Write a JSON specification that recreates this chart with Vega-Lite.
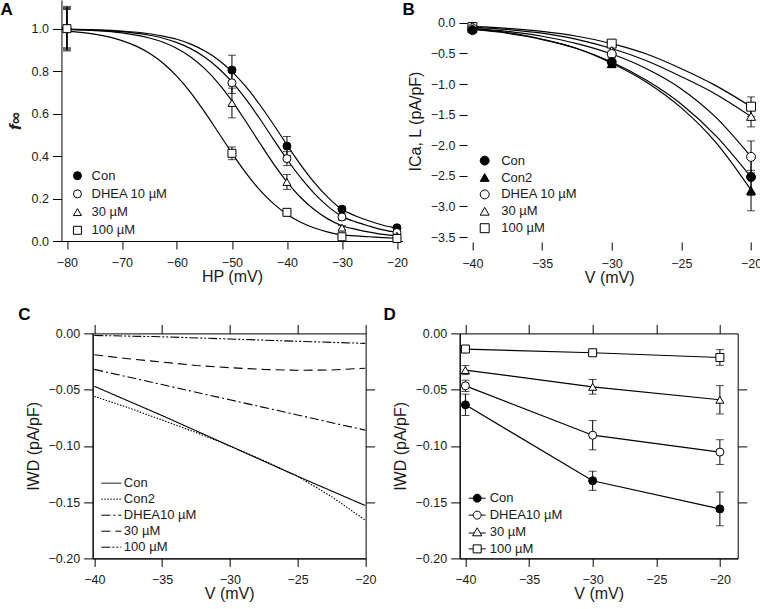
{
"$schema": "https://vega.github.io/schema/vega-lite/v6.json",
"background": "white",
"padding": 0,
"spacing": -25.3,
"config": {
 "font": "Liberation Sans",
 "view": {"stroke": null},
 "axis": {"grid": false, "domainColor": "black", "tickColor": "black", "labelColor": "#1a1a1a", "titleColor": "#1a1a1a", "labelFont": "Liberation Sans", "titleFont": "Liberation Sans", "labelFontSize": 12.5, "titleFontSize": 16, "titleFontWeight": "normal", "tickSize": 8, "labelPadding": 7, "labelFlush": false, "labelOverlap": false, "domainWidth": 1, "tickWidth": 1},
 "axisY": {"labelPadding": 4, "tickSize": 9, "titlePadding": 7},
 "axisX": {"titlePadding": 0},
 "legend": {"labelFont": "Liberation Sans", "labelFontSize": 13, "labelColor": "#1a1a1a", "padding": 0, "rowPadding": 4, "symbolStrokeColor": "black", "symbolStrokeWidth": 1, "symbolOpacity": 1, "orient": "none"},
 "title": {"font": "Liberation Sans", "fontSize": 17, "fontWeight": "bold", "anchor": "start", "frame": "bounds", "color": "black", "baseline": "bottom"}
},
"datasets": {
 "Acurve": [
  {"s":"Con","V":-80,"f":0.998},{"s":"Con","V":-75,"f":0.995},{"s":"Con","V":-70,"f":0.989},{"s":"Con","V":-65,"f":0.976},{"s":"Con","V":-62.5,"f":0.965},{"s":"Con","V":-60,"f":0.95},{"s":"Con","V":-57.5,"f":0.927},{"s":"Con","V":-55,"f":0.896},{"s":"Con","V":-52.5,"f":0.854},{"s":"Con","V":-50,"f":0.798},{"s":"Con","V":-47.5,"f":0.728},{"s":"Con","V":-45,"f":0.644},{"s":"Con","V":-42.5,"f":0.551},{"s":"Con","V":-40,"f":0.453},{"s":"Con","V":-37.5,"f":0.359},{"s":"Con","V":-35,"f":0.275},{"s":"Con","V":-32.5,"f":0.204},{"s":"Con","V":-30,"f":0.148},{"s":"Con","V":-27.5,"f":0.118},{"s":"Con","V":-25,"f":0.094},{"s":"Con","V":-22.5,"f":0.074},{"s":"Con","V":-20,"f":0.06},
  {"s":"D10","V":-80,"f":0.997},{"s":"D10","V":-75,"f":0.993},{"s":"D10","V":-70,"f":0.986},{"s":"D10","V":-65,"f":0.969},{"s":"D10","V":-62.5,"f":0.955},{"s":"D10","V":-60,"f":0.934},{"s":"D10","V":-57.5,"f":0.906},{"s":"D10","V":-55,"f":0.867},{"s":"D10","V":-52.5,"f":0.815},{"s":"D10","V":-50,"f":0.749},{"s":"D10","V":-47.5,"f":0.669},{"s":"D10","V":-45,"f":0.578},{"s":"D10","V":-42.5,"f":0.481},{"s":"D10","V":-40,"f":0.385},{"s":"D10","V":-37.5,"f":0.298},{"s":"D10","V":-35,"f":0.223},{"s":"D10","V":-32.5,"f":0.162},{"s":"D10","V":-30,"f":0.116},{"s":"D10","V":-27.5,"f":0.09},{"s":"D10","V":-25,"f":0.07},{"s":"D10","V":-22.5,"f":0.052},{"s":"D10","V":-20,"f":0.04},
  {"s":"D30","V":-80,"f":0.996},{"s":"D30","V":-75,"f":0.991},{"s":"D30","V":-70,"f":0.98},{"s":"D30","V":-65,"f":0.956},{"s":"D30","V":-62.5,"f":0.936},{"s":"D30","V":-60,"f":0.907},{"s":"D30","V":-57.5,"f":0.867},{"s":"D30","V":-55,"f":0.813},{"s":"D30","V":-52.5,"f":0.744},{"s":"D30","V":-50,"f":0.66},{"s":"D30","V":-47.5,"f":0.564},{"s":"D30","V":-45,"f":0.464},{"s":"D30","V":-42.5,"f":0.366},{"s":"D30","V":-40,"f":0.279},{"s":"D30","V":-37.5,"f":0.205},{"s":"D30","V":-35,"f":0.147},{"s":"D30","V":-32.5,"f":0.103},{"s":"D30","V":-30,"f":0.072},{"s":"D30","V":-27.5,"f":0.055},{"s":"D30","V":-25,"f":0.042},{"s":"D30","V":-22.5,"f":0.031},{"s":"D30","V":-20,"f":0.024},
  {"s":"D100","V":-80,"f":0.988},{"s":"D100","V":-75,"f":0.974},{"s":"D100","V":-70,"f":0.944},{"s":"D100","V":-67.5,"f":0.919},{"s":"D100","V":-65,"f":0.884},{"s":"D100","V":-62.5,"f":0.837},{"s":"D100","V":-60,"f":0.775},{"s":"D100","V":-57.5,"f":0.699},{"s":"D100","V":-55,"f":0.609},{"s":"D100","V":-52.5,"f":0.512},{"s":"D100","V":-50,"f":0.414},{"s":"D100","V":-47.5,"f":0.322},{"s":"D100","V":-45,"f":0.242},{"s":"D100","V":-42.5,"f":0.177},{"s":"D100","V":-40,"f":0.126},{"s":"D100","V":-37.5,"f":0.088},{"s":"D100","V":-35,"f":0.061},{"s":"D100","V":-32.5,"f":0.042},{"s":"D100","V":-30,"f":0.029},{"s":"D100","V":-27.5,"f":0.024},{"s":"D100","V":-25,"f":0.02},{"s":"D100","V":-22.5,"f":0.016},{"s":"D100","V":-20,"f":0.013}
 ],
 "Apts": [
  {"s":"Con","V":-80,"f":1.0,"e":0.105},
  {"s":"DHEA 10 µM","V":-80,"f":1.0,"e":0.09},
  {"s":"30 µM","V":-80,"f":1.0,"e":0.095},
  {"s":"100 µM","V":-80,"f":1.0,"e":0.1},
  {"s":"Con","V":-50,"f":0.805,"e":0.07},
  {"s":"DHEA 10 µM","V":-50,"f":0.745,"e":0.05},
  {"s":"30 µM","V":-50,"f":0.65,"e":0.07},
  {"s":"100 µM","V":-50,"f":0.413,"e":0.03},
  {"s":"Con","V":-40,"f":0.447,"e":0.045},
  {"s":"DHEA 10 µM","V":-40,"f":0.388,"e":0.033},
  {"s":"30 µM","V":-40,"f":0.278,"e":0.035},
  {"s":"100 µM","V":-40,"f":0.135,"e":0.015},
  {"s":"Con","V":-30,"f":0.15,"e":0.012},
  {"s":"DHEA 10 µM","V":-30,"f":0.113,"e":0.015},
  {"s":"30 µM","V":-30,"f":0.063,"e":0.01},
  {"s":"100 µM","V":-30,"f":0.02,"e":0.006},
  {"s":"Con","V":-20,"f":0.062,"e":0.008},
  {"s":"DHEA 10 µM","V":-20,"f":0.04,"e":0.006},
  {"s":"30 µM","V":-20,"f":0.025,"e":0.005},
  {"s":"100 µM","V":-20,"f":0.012,"e":0.004}
 ],
 "Bcurve": [
  {"s":"Con","V":-40,"I":-0.11},{"s":"Con","V":-37.5,"I":-0.17},{"s":"Con","V":-35,"I":-0.27},{"s":"Con","V":-32.5,"I":-0.42},{"s":"Con","V":-30,"I":-0.64},{"s":"Con","V":-27.5,"I":-0.94},{"s":"Con","V":-25,"I":-1.33},{"s":"Con","V":-22.5,"I":-1.85},{"s":"Con","V":-20,"I":-2.52},
  {"s":"Con2","V":-40,"I":-0.1},{"s":"Con2","V":-37.5,"I":-0.16},{"s":"Con2","V":-35,"I":-0.27},{"s":"Con2","V":-32.5,"I":-0.42},{"s":"Con2","V":-30,"I":-0.66},{"s":"Con2","V":-27.5,"I":-0.97},{"s":"Con2","V":-25,"I":-1.39},{"s":"Con2","V":-22.5,"I":-1.96},{"s":"Con2","V":-20,"I":-2.73},
  {"s":"D10","V":-40,"I":-0.09},{"s":"D10","V":-37.5,"I":-0.14},{"s":"D10","V":-35,"I":-0.22},{"s":"D10","V":-32.5,"I":-0.34},{"s":"D10","V":-30,"I":-0.51},{"s":"D10","V":-27.5,"I":-0.75},{"s":"D10","V":-25,"I":-1.08},{"s":"D10","V":-22.5,"I":-1.55},{"s":"D10","V":-20,"I":-2.19},
  {"s":"D30","V":-40,"I":-0.07},{"s":"D30","V":-37.5,"I":-0.11},{"s":"D30","V":-35,"I":-0.17},{"s":"D30","V":-32.5,"I":-0.27},{"s":"D30","V":-30,"I":-0.42},{"s":"D30","V":-27.5,"I":-0.62},{"s":"D30","V":-25,"I":-0.88},{"s":"D30","V":-22.5,"I":-1.17},{"s":"D30","V":-20,"I":-1.53},
  {"s":"D100","V":-40,"I":-0.06},{"s":"D100","V":-37.5,"I":-0.09},{"s":"D100","V":-35,"I":-0.14},{"s":"D100","V":-32.5,"I":-0.22},{"s":"D100","V":-30,"I":-0.34},{"s":"D100","V":-27.5,"I":-0.51},{"s":"D100","V":-25,"I":-0.75},{"s":"D100","V":-22.5,"I":-1.03},{"s":"D100","V":-20,"I":-1.37}
 ],
 "Bpts": [
  {"s":"100 µM","V":-40,"I":-0.07,"e":0.02},
  {"s":"30 µM","V":-40,"I":-0.05,"e":0.02},
  {"s":"DHEA 10 µM","V":-40,"I":-0.09,"e":0.02},
  {"s":"Con2","V":-40,"I":-0.1,"e":0.03},
  {"s":"Con","V":-40,"I":-0.12,"e":0.03},
  {"s":"100 µM","V":-30,"I":-0.34,"e":0.05},
  {"s":"30 µM","V":-30,"I":-0.45,"e":0.05},
  {"s":"DHEA 10 µM","V":-30,"I":-0.51,"e":0.05},
  {"s":"Con2","V":-30,"I":-0.67,"e":0.06},
  {"s":"Con","V":-30,"I":-0.64,"e":0.07},
  {"s":"100 µM","V":-20,"I":-1.37,"e":0.16},
  {"s":"30 µM","V":-20,"I":-1.53,"e":0.17},
  {"s":"DHEA 10 µM","V":-20,"I":-2.19,"e":0.26},
  {"s":"Con2","V":-20,"I":-2.74,"e":0.33},
  {"s":"Con","V":-20,"I":-2.52,"e":0.3}
 ],
 "Cline": [
  {"s":"Con","V":-40,"I":-0.047},{"s":"Con","V":-37.5,"I":-0.06},{"s":"Con","V":-35,"I":-0.073},{"s":"Con","V":-32.5,"I":-0.0865},{"s":"Con","V":-30,"I":-0.1},{"s":"Con","V":-27.5,"I":-0.1135},{"s":"Con","V":-25,"I":-0.127},{"s":"Con","V":-22.5,"I":-0.14},{"s":"Con","V":-20,"I":-0.153},
  {"s":"Con2","V":-40,"I":-0.056},{"s":"Con2","V":-37.5,"I":-0.066},{"s":"Con2","V":-35,"I":-0.077},{"s":"Con2","V":-32.5,"I":-0.088},{"s":"Con2","V":-30,"I":-0.1},{"s":"Con2","V":-27.5,"I":-0.113},{"s":"Con2","V":-25,"I":-0.127},{"s":"Con2","V":-22.5,"I":-0.145},{"s":"Con2","V":-20,"I":-0.166},
  {"s":"DHEA10 µM","V":-40,"I":-0.032},{"s":"DHEA10 µM","V":-35,"I":-0.0455},{"s":"DHEA10 µM","V":-30,"I":-0.059},{"s":"DHEA10 µM","V":-25,"I":-0.0725},{"s":"DHEA10 µM","V":-20,"I":-0.086},
  {"s":"30 µM","V":-40,"I":-0.019},{"s":"30 µM","V":-37.5,"I":-0.0225},{"s":"30 µM","V":-35,"I":-0.0255},{"s":"30 µM","V":-32.5,"I":-0.0285},{"s":"30 µM","V":-30,"I":-0.0305},{"s":"30 µM","V":-27.5,"I":-0.032},{"s":"30 µM","V":-25,"I":-0.0328},{"s":"30 µM","V":-22.5,"I":-0.0325},{"s":"30 µM","V":-20,"I":-0.031},
  {"s":"100 µM","V":-40,"I":-0.0018},{"s":"100 µM","V":-35,"I":-0.003},{"s":"100 µM","V":-30,"I":-0.005},{"s":"100 µM","V":-25,"I":-0.007},{"s":"100 µM","V":-20,"I":-0.0089}
 ],
 "Dpts": [
  {"s":"Con","V":-40,"I":-0.0635,"e":0.0095},
  {"s":"Con","V":-30,"I":-0.131,"e":0.0085},
  {"s":"Con","V":-20,"I":-0.156,"e":0.015},
  {"s":"DHEA10 µM","V":-40,"I":-0.0466,"e":0.005},
  {"s":"DHEA10 µM","V":-30,"I":-0.0905,"e":0.013},
  {"s":"DHEA10 µM","V":-20,"I":-0.1055,"e":0.011},
  {"s":"30 µM","V":-40,"I":-0.0326,"e":0.004},
  {"s":"30 µM","V":-30,"I":-0.0475,"e":0.0065},
  {"s":"30 µM","V":-20,"I":-0.059,"e":0.0126},
  {"s":"100 µM","V":-40,"I":-0.0139,"e":0.0015},
  {"s":"100 µM","V":-30,"I":-0.0172,"e":0.0015},
  {"s":"100 µM","V":-20,"I":-0.0214,"e":0.007}
 ]
},
"hconcat": [
 {"vconcat": [
  {
   "title": {"text": "A", "offset": -18.6, "dx": -5.6},
   "width": 341, "height": 241,
   "encoding": {
    "x": {"field": "V", "type": "quantitative", "scale": {"domain": [-81, -19], "nice": false, "zero": false}, "axis": {"values": [-80, -70, -60, -50, -40, -30, -20], "title": "HP (mV)"}},
    "y": {"field": "f", "type": "quantitative", "scale": {"domain": [0, 1.135], "nice": false, "zero": false}, "axis": {"values": [0, 0.2, 0.4, 0.6, 0.8, 1], "format": ".1f", "title": "f∞", "titleFontStyle": "italic", "titleFontWeight": "bold", "titleFontSize": 17}}
   },
   "layer": [
    {"data": {"name": "Acurve"}, "mark": {"type": "line", "interpolate": "monotone", "color": "black", "strokeWidth": 1.2}, "encoding": {"detail": {"field": "s"}}},
    {"data": {"name": "Apts"}, "mark": {"type": "errorbar", "color": "black", "ticks": {"size": 8, "color": "black"}}, "encoding": {"yError": {"field": "e"}}},
    {"data": {"name": "Apts"}, "mark": {"type": "point", "size": 64, "opacity": 1, "strokeWidth": 1, "stroke": "black"},
     "encoding": {
      "shape": {"field": "s", "type": "nominal", "scale": {"domain": ["Con", "DHEA 10 µM", "30 µM", "100 µM"], "range": ["circle", "circle", "triangle-up", "square"]}, "legend": {"title": null, "orient": "none", "legendX": 9.5, "legendY": 169.2, "symbolSize": 64, "labelOffset": 7.6, "rowPadding": 4.2, "encode": {"symbols": {"update": {"stroke": {"value": "black"}, "strokeWidth": {"value": 1}}}}}},
      "fill": {"field": "s", "type": "nominal", "scale": {"domain": ["Con", "DHEA 10 µM", "30 µM", "100 µM"], "range": ["black", "white", "white", "white"]}, "legend": {"title": null, "orient": "none", "legendX": 9.5, "legendY": 169.2, "symbolSize": 64, "labelOffset": 7.6, "rowPadding": 4.2, "encode": {"symbols": {"update": {"stroke": {"value": "black"}, "strokeWidth": {"value": 1}}}}}}}}
   ],
   "resolve": {"scale": {"shape": "independent", "fill": "independent"}}
  },
  {
   "title": {"text": "C", "offset": -0.3, "dx": -6.8},
   "width": 273, "height": 225,
   "view": {"stroke": "black", "strokeWidth": 1},
   "data": {"name": "Cline"},
   "layer": [
    {"mark": {"type": "line", "color": "black", "strokeWidth": 1.1},
     "encoding": {
      "x": {"field": "V", "type": "quantitative", "scale": {"domain": [-40.12, -19.97], "nice": false, "zero": false}, "axis": {"values": [-40, -35, -30, -25, -20], "title": "V (mV)"}},
      "y": {"field": "I", "type": "quantitative", "scale": {"domain": [-0.2, 0], "nice": false, "zero": false}, "axis": {"values": [0, -0.05, -0.1, -0.15, -0.2], "format": ".2f", "title": "IWD (pA/pF)"}},
      "strokeDash": {"field": "s", "type": "nominal", "scale": {"domain": ["Con", "Con2", "DHEA10 µM", "30 µM", "100 µM"], "range": [[1, 0], [1.5, 1.5], [9, 3, 2, 3], [9, 5], [9, 2, 2, 2, 2, 2]]}, "legend": {"title": null, "orient": "none", "legendX": 12.2, "legendY": 143.3, "symbolType": "M-2.5,0L2.5,0", "symbolSize": 64, "labelOffset": 6, "rowPadding": 2, "symbolStrokeWidth": 1, "encode": {"symbols": {"update": {"stroke": {"value": "black"}, "strokeWidth": {"value": 1}}}}}}}},
    {"mark": {"type": "point", "opacity": 0},
     "encoding": {
      "x": {"field": "V", "type": "quantitative", "axis": {"orient": "top", "labels": false, "domain": false, "title": null, "values": [-40, -35, -30, -25, -20], "tickSize": 9}},
      "y": {"field": "I", "type": "quantitative", "axis": {"orient": "right", "labels": false, "domain": false, "title": null, "values": [-0.05, -0.1, -0.15], "tickSize": 9}}}}
   ],
   "resolve": {"axis": {"x": "independent", "y": "independent"}, "scale": {"strokeDash": "independent"}}
  }
 ], "spacing": 20.4, "center": true},
 {"vconcat": [
  {
   "title": {"text": "B", "offset": -18.6, "dx": -4.8},
   "width": 299, "height": 242,
   "encoding": {
    "x": {"field": "V", "type": "quantitative", "scale": {"domain": [-40.91, -19.45], "nice": false, "zero": false}, "axis": {"values": [-40, -35, -30, -25, -20], "title": "V (mV)", "domain": false}},
    "y": {"field": "I", "type": "quantitative", "scale": {"domain": [-3.58, 0.372], "nice": false, "zero": false}, "axis": {"values": [0, -0.5, -1, -1.5, -2, -2.5, -3, -3.5], "format": ".1f", "title": "ICa, L (pA/pF)", "domain": false, "offset": -7.3, "tickSize": 8}}
   },
   "layer": [
    {"data": {"values": [{}]}, "mark": {"type": "rule", "color": "black", "strokeWidth": 1}, "encoding": {"x": {"datum": -40.39}, "y": {"datum": -3.58}, "y2": {"datum": 0.03}}},
    {"data": {"values": [{}]}, "mark": {"type": "rule", "color": "black", "strokeWidth": 1}, "encoding": {"x": {"datum": -40.39}, "x2": {"datum": -19.45}, "y": {"datum": -3.58}}},
    {"data": {"name": "Bcurve"}, "mark": {"type": "line", "interpolate": "monotone", "color": "black", "strokeWidth": 1.2}, "encoding": {"detail": {"field": "s"}}},
    {"data": {"name": "Bpts"}, "mark": {"type": "errorbar", "color": "black", "ticks": {"size": 8, "color": "black"}}, "encoding": {"yError": {"field": "e"}}},
    {"data": {"name": "Bpts"}, "mark": {"type": "point", "size": 80, "opacity": 1, "strokeWidth": 1, "stroke": "black"},
     "encoding": {
      "shape": {"field": "s", "type": "nominal", "scale": {"domain": ["Con", "Con2", "DHEA 10 µM", "30 µM", "100 µM"], "range": ["circle", "triangle-up", "circle", "triangle-up", "square"]}, "legend": {"title": null, "orient": "none", "legendX": 18.5, "legendY": 154.1, "symbolSize": 80, "labelOffset": 10, "rowPadding": 2.9, "encode": {"symbols": {"update": {"stroke": {"value": "black"}, "strokeWidth": {"value": 1}}}}}},
      "fill": {"field": "s", "type": "nominal", "scale": {"domain": ["Con", "Con2", "DHEA 10 µM", "30 µM", "100 µM"], "range": ["black", "black", "white", "white", "white"]}, "legend": {"title": null, "orient": "none", "legendX": 18.5, "legendY": 154.1, "symbolSize": 80, "labelOffset": 10, "rowPadding": 2.9, "encode": {"symbols": {"update": {"stroke": {"value": "black"}, "strokeWidth": {"value": 1}}}}}}}}
   ],
   "resolve": {"scale": {"shape": "independent", "fill": "independent"}}
  },
  {
   "title": {"text": "D", "offset": -0.3, "dx": -8.5},
   "width": 278, "height": 225,
   "view": {"stroke": "black", "strokeWidth": 1},
   "data": {"name": "Dpts"},
   "layer": [
    {"encoding": {
      "x": {"field": "V", "type": "quantitative", "scale": {"domain": [-40.45, -18.6], "nice": false, "zero": false}, "axis": {"values": [-40, -35, -30, -25, -20], "title": "V (mV)"}},
      "y": {"field": "I", "type": "quantitative", "scale": {"domain": [-0.2, 0], "nice": false, "zero": false}, "axis": {"values": [0, -0.05, -0.1, -0.15, -0.2], "format": ".2f", "title": "IWD (pA/pF)"}}
     },
     "layer": [
      {"mark": {"type": "line", "color": "black", "strokeWidth": 1.2}, "encoding": {"detail": {"field": "s"}}},
      {"mark": {"type": "errorbar", "color": "black", "ticks": {"size": 8, "color": "black"}}, "encoding": {"yError": {"field": "e"}}},
      {"mark": {"type": "point", "size": 64, "opacity": 1, "strokeWidth": 1, "stroke": "black"},
       "encoding": {
        "shape": {"field": "s", "type": "nominal", "scale": {"domain": ["Con", "DHEA10 µM", "30 µM", "100 µM"], "range": ["circle", "circle", "triangle-up", "square"]}, "legend": null},
        "fill": {"field": "s", "type": "nominal", "scale": {"domain": ["Con", "DHEA10 µM", "30 µM", "100 µM"], "range": ["black", "white", "white", "white"]}, "legend": null}}},
      {"mark": {"type": "point", "size": 64, "opacity": 0, "strokeWidth": 1, "stroke": "black"},
       "encoding": {
        "shape": {"field": "s", "type": "nominal", "scale": {"domain": ["Con", "DHEA10 µM", "30 µM", "100 µM"], "range": ["M-2.125,0L-1,0M1,0L2.125,0M1,0A1,1,0,1,1,-1,0A1,1,0,1,1,1,0Z", "M-2.125,0L-1,0M1,0L2.125,0M1,0A1,1,0,1,1,-1,0A1,1,0,1,1,1,0Z", "M-2.125,0.25L-0.75,0.25M0.75,0.25L2.125,0.25M0,-1.05L1.15,0.95L-1.15,0.95Z", "M-2.125,0L-1,0M1,0L2.125,0M-1,-1L1,-1L1,1L-1,1Z"]}, "legend": {"title": null, "orient": "none", "legendX": 11, "legendY": 158.3, "symbolSize": 64, "labelOffset": 6, "rowPadding": 2.9, "symbolOpacity": 1, "encode": {"symbols": {"update": {"stroke": {"value": "black"}, "strokeWidth": {"value": 1}, "opacity": {"value": 1}}}}}},
        "fill": {"field": "s", "type": "nominal", "scale": {"domain": ["Con", "DHEA10 µM", "30 µM", "100 µM"], "range": ["black", "white", "white", "white"]}, "legend": {"title": null, "orient": "none", "legendX": 11, "legendY": 158.3, "symbolSize": 64, "labelOffset": 6, "rowPadding": 2.9, "symbolOpacity": 1, "encode": {"symbols": {"update": {"stroke": {"value": "black"}, "strokeWidth": {"value": 1}, "opacity": {"value": 1}}}}}}}}
     ],
     "resolve": {"scale": {"shape": "independent", "fill": "independent"}}},
    {"mark": {"type": "point", "opacity": 0},
     "encoding": {
      "x": {"field": "V", "type": "quantitative", "axis": {"orient": "top", "labels": false, "domain": false, "title": null, "values": [-40, -35, -30, -25, -20], "tickSize": 9}},
      "y": {"field": "I", "type": "quantitative", "axis": {"orient": "right", "labels": false, "domain": false, "title": null, "values": [-0.05, -0.1, -0.15], "tickSize": 9}}}}
   ],
   "resolve": {"axis": {"x": "independent", "y": "independent"}}
  }
 ], "spacing": 19.4}
]
}
